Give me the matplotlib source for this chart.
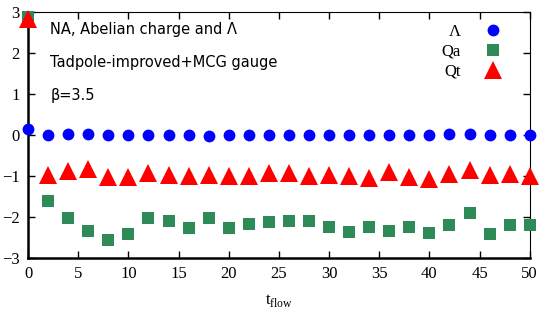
import matplotlib.pyplot as plt
from matplotlib.lines import Line2D

t_flow = [0, 2, 4, 6, 8, 10, 12, 14, 16, 18, 20, 22, 24, 26,
          28, 30, 32, 34, 36, 38, 40, 42, 44, 46, 48, 50]

lam = [0.15, 0.00, 0.02, 0.02, 0.01, 0.01, 0.00, -0.01, -0.01, -0.02, -0.01, 0.01, 0.01, 0.01,
       0.01, 0.01, 0.01, 0.01, 0.01, 0.01, 0.01, 0.03, 0.02, 0.01, 0.01, 0.01]

qa = [2.87, -1.60, -2.03, -2.33, -2.57, -2.41, -2.03, -2.10, -2.27, -2.03, -2.28, -2.17, -2.13, -2.11,
      -2.09, -2.24, -2.37, -2.25, -2.35, -2.25, -2.39, -2.19, -1.91, -2.41, -2.20, -2.20]

qt = [2.83, -0.97, -0.88, -0.84, -1.02, -1.02, -0.93, -0.97, -0.99, -0.98, -0.99, -1.01, -0.93, -0.92,
      -1.00, -0.97, -0.99, -1.04, -0.90, -1.02, -1.07, -0.95, -0.86, -0.98, -0.95, -1.01]

BLUE = "#0000ff"
GREEN = "#2e8b57"
RED = "#ff0000"
SERIF = "Liberation Serif"

fig = plt.figure(figsize=(5.4, 3.15), dpi=100)
ax = fig.add_axes([0.052, 0.181, 0.929, 0.781])

ax.plot(t_flow, lam, "o", color=BLUE, ms=8.5, mew=0, clip_on=False, zorder=3)
ax.plot(t_flow, qa, "s", color=GREEN, ms=9, mew=0, clip_on=False, zorder=3)
ax.plot(t_flow, qt, "^", color=RED, ms=12.5, mew=0, clip_on=False, zorder=4)

ax.set_xlim(0, 50)
ax.set_ylim(-3, 3)
ax.set_xticks(range(0, 51, 5))
ax.set_yticks(range(-3, 4))
ax.tick_params(direction="in", top=True, right=True, length=5, width=1,
               labelsize=12, pad=6)
for lab in ax.get_xticklabels() + ax.get_yticklabels():
    lab.set_fontfamily(SERIF)
ax.spines["left"].set_linewidth(1.8)
ax.spines["bottom"].set_linewidth(1.8)
ax.spines["top"].set_linewidth(0.8)
ax.spines["right"].set_linewidth(0.8)

ax.set_xlabel(r"t$_{\mathregular{flow}}$", family=SERIF, fontsize=12, labelpad=7)

ax.text(0.044, 0.93, "NA, Abelian charge and Λ", transform=ax.transAxes,
        fontsize=10.5, va="center")
ax.text(0.044, 0.795, "Tadpole-improved+MCG gauge", transform=ax.transAxes,
        fontsize=10.5, va="center")
ax.text(0.044, 0.66, "β=3.5", transform=ax.transAxes,
        fontsize=10.5, va="center")

handles = [
    Line2D([], [], ls="", marker="o", color=BLUE, ms=8.5, mew=0, label="Λ"),
    Line2D([], [], ls="", marker="s", color=GREEN, ms=9, mew=0, label="Qa"),
    Line2D([], [], ls="", marker="^", color=RED, ms=12.5, mew=0, label="Qt"),
]
ax.legend(handles=handles, loc="upper right", bbox_to_anchor=(0.975, 1.0),
          frameon=False, markerfirst=False, prop={"family": SERIF, "size": 12},
          labelspacing=0.25, handletextpad=1.2, handlelength=1.5, borderpad=0.2)

fig.savefig("out.png", dpi=100)
